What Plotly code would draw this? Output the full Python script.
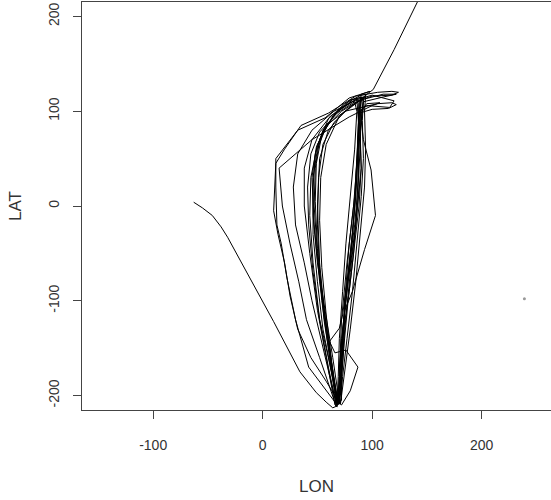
import plotly.graph_objects as go

# Track (LON, LAT), in drawing order
lon = [
    -63, -55, -46, -38, -32, -10, 10, 34, 49, 58, 64, 68,
    66, 60, 54, 50, 47, 48, 52, 60, 75, 90, 105, 118, 124, 118, 100, 90, 88, 87, 85, 80, 75, 72, 70,
    68, 55, 42, 30, 22, 17, 13, 12, 12, 32, 57, 79, 98, 90, 88, 86, 84, 80, 74, 70, 70,
    67, 55, 45, 38, 30, 28, 32, 45, 65, 85, 100, 120, 116, 95, 88, 90, 85, 78, 72, 69,
    68, 60, 52, 46, 43, 44, 50, 64, 80, 92, 90, 92, 99, 103, 93, 82, 75, 72, 70, 68,
    69, 62, 55, 50, 46, 46, 48, 55, 70, 86, 88, 86, 82, 77, 73, 70, 61, 66, 76, 87, 80, 72,
    70, 58, 44, 32, 25, 20, 14, 10, 12, 20, 35, 60, 85, 95, 88, 87, 88, 85, 80, 75, 71, 70,
    68, 60, 52, 47, 45, 49, 58, 75, 90, 105, 118, 122, 115, 100, 88, 87, 83, 77, 72, 70, 68,
    66, 58, 50, 43, 38, 38, 45, 62, 82, 88, 87, 84, 79, 75, 72, 72,
    67, 52, 40, 33, 25, 18, 15, 45, 79, 100, 107, 95, 90, 89, 87, 84, 78, 75, 74, 71,
    69, 62, 56, 52, 50, 51, 55, 65, 80, 90, 110, 122, 110, 92, 89, 90, 88, 84, 79, 74, 70,
    70, 64, 57, 50, 46, 46, 50, 58, 72, 86, 92, 91, 92, 90, 86, 82, 77, 73, 71,
    67, 60, 52, 46, 42, 41, 44, 52, 68, 84, 86, 84, 80, 76, 73, 70, 69, 68,
    69, 63, 58, 54, 52, 53, 58, 70, 85, 94, 93, 94, 93, 89, 85, 80, 75, 71,
    68, 61, 55, 50, 48, 49, 54, 66, 82, 90, 89, 88, 86, 83, 78, 74, 71, 69,
    68, 63, 57, 52, 50, 52, 60, 75, 88, 95, 101, 120, 142,
]
lat = [
    4, -2, -10, -22, -33, -80, -122, -175, -197, -207, -213, -211,
    -200, -150, -100, -50, 0, 40, 70, 92, 108, 117, 120, 121, 120, 117, 116, 112, 95, 60, 10, -50, -110, -160, -205,
    -210, -190, -170, -120, -75, -40, -20, 20, 50, 80, 93, 114, 121, 118, 100, 50, 0, -60, -120, -170, -207,
    -208, -150, -100, -60, -20, 20, 55, 80, 100, 112, 117, 111, 104, 106, 100, 40, -20, -80, -140, -205,
    -206, -160, -120, -60, -10, 30, 65, 95, 112, 115, 90, 70, 38, -10, -46, -90, -110, -150, -190, -210,
    -209, -170, -130, -80, -30, 20, 55, 80, 102, 113, 80, 30, -30, -80, -115, -129, -143, -155, -152, -170, -195, -210,
    -208, -185, -160, -130, -95, -60, -30, -5, 45, 60, 85, 98, 116, 118, 108, 70, 20, -20, -70, -130, -180, -208,
    -207, -140, -80, -20, 30, 62, 85, 100, 104, 108, 109, 107, 103, 102, 98, 60, 0, -60, -120, -180, -212,
    -210, -160, -110, -50, 0, 40, 70, 95, 110, 112, 70, 10, -40, -100, -160, -205,
    -211, -160, -120, -80, -40, 0, 40, 70, 94, 106, 109, 108, 100, 60, 20, -20, -70, -100, -150, -200,
    -206, -165, -120, -70, -20, 30, 65, 88, 105, 112, 118, 118, 115, 110, 80, 40, 0, -40, -90, -130, -200,
    -207, -160, -110, -60, -10, 30, 60, 84, 100, 110, 112, 90, 50, 10, -40, -90, -140, -180, -208,
    -209, -170, -120, -70, -20, 20, 55, 78, 98, 110, 100, 60, 10, -40, -90, -140, -180, -208,
    -210, -165, -115, -65, -15, 30, 65, 95, 108, 116, 100, 60, 20, -30, -80, -130, -175, -209,
    -208, -150, -100, -45, 5, 45, 75, 97, 112, 115, 85, 45, 0, -50, -100, -150, -195, -209,
    -210, -170, -120, -60, 0, 50, 80, 100, 112, 118, 123, 165, 217,
]

# isolated point
pt_lon = [239]
pt_lat = [-98]

x_ticks = [-100, 0, 100, 200]
x_labels = ["-100", "0", "100", "200"]
y_ticks = [-200, -100, 0, 100, 200]
y_labels = ["-200", "-100", "0", "100", "200"]

fig = go.Figure()
fig.add_trace(go.Scatter(x=lon, y=lat, mode="lines",
                         line=dict(color="black", width=1), showlegend=False))
fig.add_trace(go.Scatter(x=pt_lon, y=pt_lat, mode="markers",
                         marker=dict(color="#999999", size=3), showlegend=False))

font = dict(family="Liberation Sans, Arial, sans-serif", size=14, color="#333333")
fig.update_layout(
    width=551, height=500,
    margin=dict(l=82, r=0, t=2, b=90),
    paper_bgcolor="white", plot_bgcolor="white",
    font=font,
    xaxis=dict(range=[-165, 263.3], tickvals=x_ticks, ticktext=x_labels,
               ticks="outside", ticklen=8, ticklabelstandoff=14,
               tickcolor="#444", showline=True, linecolor="#444", linewidth=1,
               mirror=True, showgrid=False, zeroline=False, automargin=False,
               title=dict(text="LON", standoff=28)),
    yaxis=dict(range=[-215.3, 215.3], tickvals=y_ticks, ticktext=y_labels,
               ticks="outside", ticklen=8, ticklabelstandoff=8,
               ticklabeloverflow="allow",
               tickcolor="#444", showline=True, linecolor="#444", linewidth=1,
               showgrid=False, zeroline=False, tickangle=-90, automargin=False,
               title=dict(text="LAT", standoff=20)),
)
fig.write_html("out.html", config={"displayModeBar": False},
               post_script="document.body.style.margin='0px';document.body.style.overflow='hidden';")
